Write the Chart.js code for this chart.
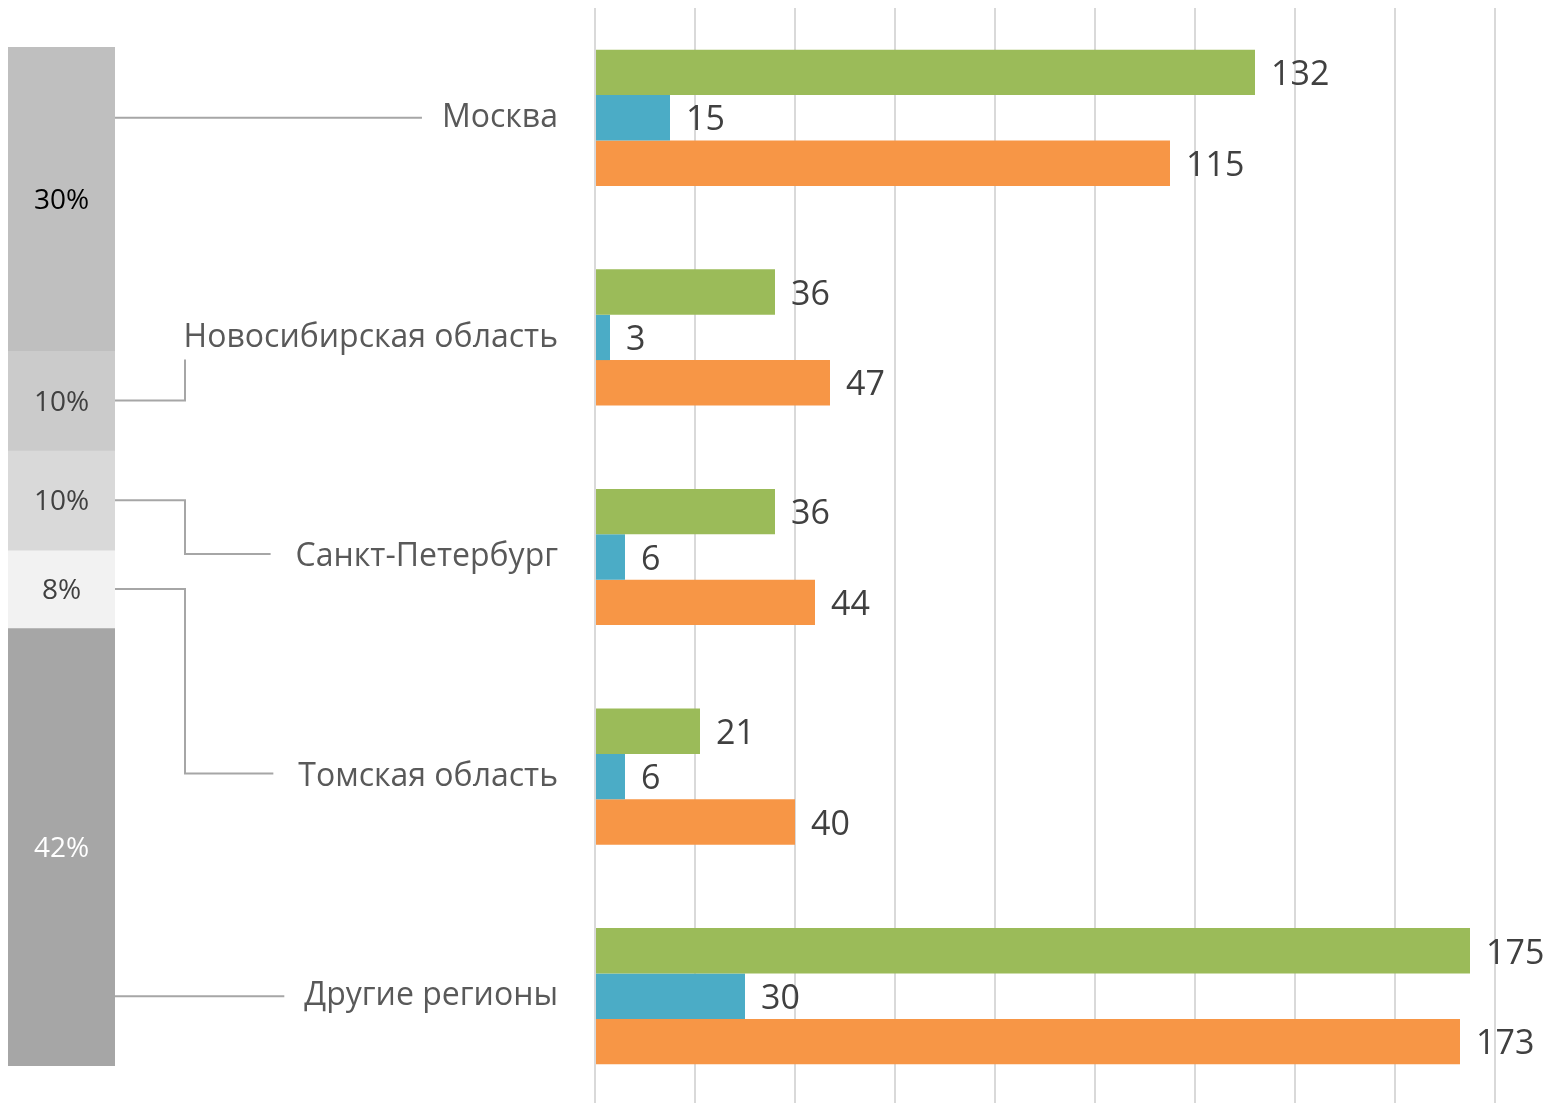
<!DOCTYPE html>
<html><head><meta charset="utf-8">
<script src="https://cdn.jsdelivr.net/npm/chart.js@4.4.0/dist/chart.umd.min.js"></script>
<style>
html,body{margin:0;padding:0;background:#fff;overflow:hidden;width:1546px;height:1103px}
#wrap{position:relative;width:1546px;height:1103px;overflow:hidden}
#main{position:absolute;left:0;top:0}
#share{position:absolute;left:0;top:0}
</style></head><body>
<div id="wrap"><canvas id="main" width="1546" height="1106"></canvas><canvas id="share" width="130" height="1103"></canvas></div>
<script>
const categories = ['Москва','Новосибирская область','Санкт-Петербург','Томская область','Другие регионы'];
const seriesGreen = [132, 36, 36, 21, 175];
const seriesBlue = [15, 3, 6, 6, 30];
const seriesOrange = [115, 47, 44, 40, 173];
const shareLabels = ['30%','10%','10%','8%','42%'];
const xMin = 0, xMax = 180, xStep = 20;

const shareValues = categories.map((c,i)=>seriesGreen[i]+seriesBlue[i]+seriesOrange[i]);
const shareTotal = shareValues.reduce((a,b)=>a+b,0);
const shareColors = ['#bfbfbf','#cbcbcb','#d9d9d9','#f2f2f2','#a6a6a6'];
const shareTextColors = ['#000000','#404040','#404040','#404040','#ffffff'];
const FONT = '"Open Sans", "Noto Sans", sans-serif';

const shareChart = new Chart(document.getElementById('share'), {
  type: 'bar',
  data: {
    labels: ['Доля'],
    datasets: categories.map((c,i)=>({label:c, data:[shareValues[i]], backgroundColor:shareColors[i], borderWidth:0, barPercentage:1, categoryPercentage:1}))
  },
  options: {
    responsive:false, animation:false,
    layout:{padding:{left:8,right:15,top:47,bottom:37}},
    plugins:{legend:{display:false}, tooltip:{enabled:false}},
    scales:{
      x:{stacked:true, display:false},
      y:{stacked:true, display:false, reverse:true, min:0, max:shareTotal}
    }
  },
  plugins:[{
    id:'shareText',
    afterDatasetsDraw(chart){
      const ctx = chart.ctx;
      ctx.save();
      ctx.font = '28px ' + FONT;
      ctx.textAlign = 'center';
      ctx.textBaseline = 'middle';
      chart.data.datasets.forEach((d,i)=>{
        const el = chart.getDatasetMeta(i).data[0];
        const cy = (el.y + el.base)/2;
        ctx.fillStyle = shareTextColors[i];
        ctx.fillText(shareLabels[i], el.x, cy + 2);
      });
      ctx.restore();
    }
  }]
});

const valueLabels = {
  id:'valueLabels',
  afterDatasetsDraw(chart){
    const ctx = chart.ctx;
    ctx.save();
    ctx.font = '34px ' + FONT;
    ctx.fillStyle = '#404040';
    ctx.textAlign = 'left';
    ctx.textBaseline = 'middle';
    chart.data.datasets.forEach((d,di)=>{
      chart.getDatasetMeta(di).data.forEach((el,i)=>{
        ctx.fillText(String(d.data[i]), el.x + 16, el.y + 3);
      });
    });
    ctx.restore();
  }
};

const connectors = {
  id:'connectors',
  afterDraw(chart){
    const ctx = chart.ctx;
    const ys = chart.scales.y;
    ctx.save();
    ctx.font = '32px ' + FONT;
    ctx.strokeStyle = '#a6a6a6';
    ctx.lineWidth = 2;
    categories.forEach((c,i)=>{
      const ly = ys.getPixelForTick(i);
      const w = ctx.measureText(c).width;
      const labelLeft = ys.right - 37 - w;
      const el = shareChart.getDatasetMeta(i).data[0];
      const top = Math.min(el.y, el.base), bot = Math.max(el.y, el.base);
      const x0 = el.x + el.width/2;
      const elbow = x0 + 70;
      ctx.beginPath();
      if (ly >= top && ly <= bot) {
        ctx.moveTo(x0, ly);
        ctx.lineTo(labelLeft - 20, ly);
      } else {
        const mid = (top + bot)/2;
        ctx.moveTo(x0, mid);
        ctx.lineTo(elbow, mid);
        if (labelLeft - 25 > elbow + 10) {
          ctx.lineTo(elbow, ly - 3);
          ctx.lineTo(labelLeft - 25, ly - 3);
        } else {
          ctx.lineTo(elbow, ly + 22);
        }
      }
      ctx.stroke();
    });
    ctx.restore();
  }
};

new Chart(document.getElementById('main'), {
  type:'bar',
  data:{
    labels:categories,
    datasets:[
      {label:'green', data:seriesGreen, backgroundColor:'#9bbb59'},
      {label:'blue', data:seriesBlue, backgroundColor:'#4bacc6'},
      {label:'orange', data:seriesOrange, backgroundColor:'#f79646'}
    ]
  },
  options:{
    indexAxis:'y', responsive:false, animation:false,
    datasets:{bar:{barPercentage:1, categoryPercentage:0.62, borderWidth:0}},
    layout:{padding:{top:8,right:51,left:0,bottom:0}},
    plugins:{legend:{display:false}, tooltip:{enabled:false}},
    scales:{
      x:{min:xMin, max:xMax, ticks:{display:false, stepSize:xStep}, grid:{color:'#d9d9d9', lineWidth:2, drawTicks:false}, border:{display:false},
         afterFit(s){ s.height = 0; s.paddingLeft = 0; s.paddingRight = 0; }},
      y:{ticks:{font:{family:FONT, size:32}, color:'#595959', padding:37}, grid:{display:false, drawTicks:false}, border:{display:false},
         afterFit(s){ s.width = 595; s.paddingTop = 0; s.paddingBottom = 0; }}
    }
  },
  plugins:[valueLabels, connectors]
});
</script>
</body></html>
